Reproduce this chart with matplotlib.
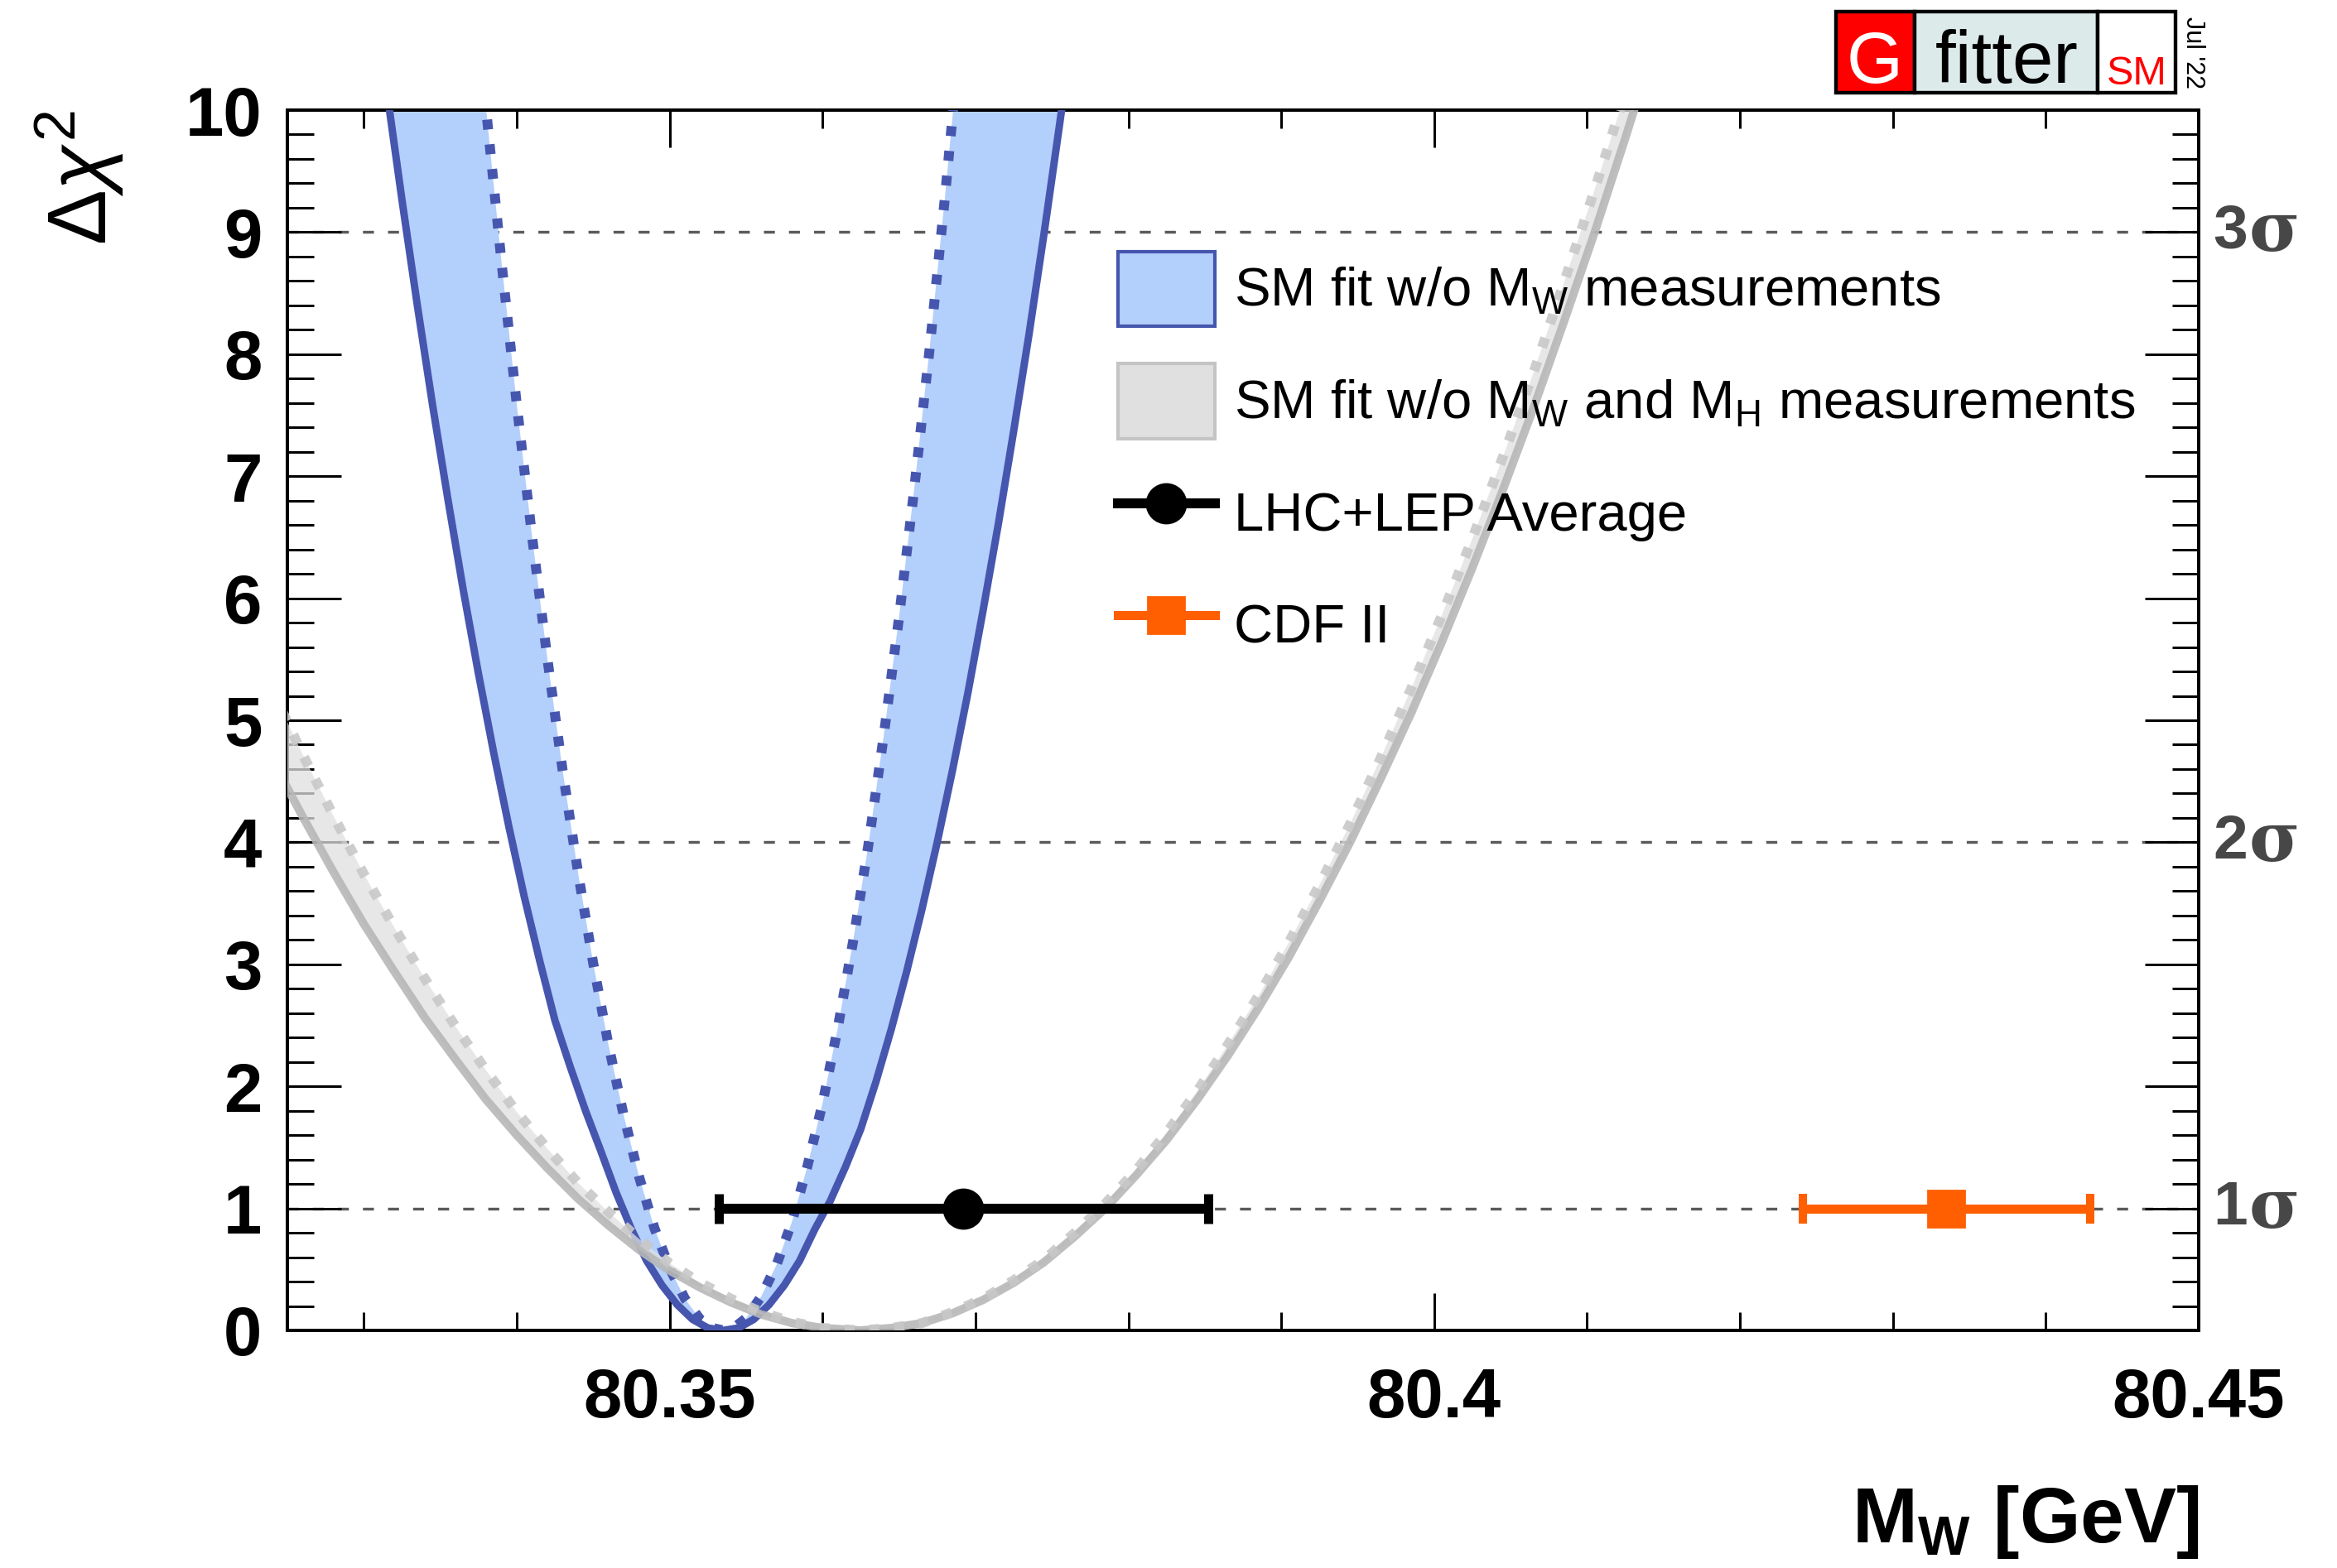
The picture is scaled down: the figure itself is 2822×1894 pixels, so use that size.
import numpy as np
import matplotlib
matplotlib.use('Agg')
import matplotlib.pyplot as plt
from matplotlib.patches import Rectangle, Patch
from matplotlib.lines import Line2D
from matplotlib.ticker import FixedLocator, MultipleLocator
import matplotlib.transforms as mtransforms

plt.rcParams['font.family'] = ['Liberation Sans', 'DejaVu Sans']
plt.rcParams['mathtext.fontset'] = 'custom'
plt.rcParams['mathtext.rm'] = 'Liberation Sans'
plt.rcParams['mathtext.it'] = 'Liberation Sans:italic'
plt.rcParams['mathtext.bf'] = 'Liberation Sans:bold'

# ---------------- data ----------------
# SM fit w/o MW measurements: outer (solid) profile
blue_solid_x = [80.3310, 80.3317, 80.3325, 80.3335, 80.3345, 80.3355, 80.3365, 80.3375,
                80.3385, 80.3395, 80.3405, 80.3415, 80.3425, 80.3435, 80.3445, 80.3455,
                80.3465, 80.3475, 80.3485, 80.3495, 80.3505, 80.3515, 80.3525, 80.3535,
                80.3545, 80.3555, 80.3565, 80.3575, 80.3585, 80.3595, 80.3605, 80.3615,
                80.3625, 80.3635, 80.3645, 80.3655, 80.3665, 80.3675, 80.3685, 80.3695,
                80.3705, 80.3715, 80.3725, 80.3735, 80.3745, 80.3755, 80.3762]
blue_solid_y = [10.63, 9.98, 9.26, 8.40, 7.58, 6.81, 6.07, 5.38,
                4.73, 4.12, 3.55, 3.03, 2.54, 2.16, 1.80, 1.47,
                1.13, 0.83, 0.57, 0.37, 0.21, 0.09, 0.02, 0.0,
                0.02, 0.09, 0.21, 0.37, 0.57, 0.83, 1.06, 1.34,
                1.65, 2.04, 2.47, 2.94, 3.45, 4.00, 4.59, 5.22,
                5.90, 6.61, 7.37, 8.16, 9.00, 9.88, 10.52]
# SM fit w/o MW measurements: inner (dotted) profile
blue_dot_x = [80.3376, 80.3381, 80.3390, 80.3400, 80.3410, 80.3420, 80.3430, 80.3440,
              80.3450, 80.3460, 80.3470, 80.3480, 80.3490, 80.3500, 80.3510, 80.3520,
              80.3528, 80.3535, 80.3542, 80.3550, 80.3560, 80.3570, 80.3580, 80.3590,
              80.3600, 80.3610, 80.3620, 80.3630, 80.3640, 80.3650, 80.3660, 80.3670,
              80.3680, 80.3692]
blue_dot_y = [10.53, 9.88, 8.76, 7.59, 6.51, 5.51, 4.59, 3.76,
              3.01, 2.34, 1.76, 1.26, 0.84, 0.51, 0.26, 0.09,
              0.02, 0.0, 0.02, 0.10, 0.28, 0.54, 0.89, 1.34,
              1.86, 2.48, 3.19, 3.98, 4.87, 5.84, 6.90, 8.04,
              9.28, 10.88]

# SM fit w/o MW and MH measurements: outer (solid) profile
gray_solid_x = [80.3240, 80.3260, 80.3280, 80.3300, 80.3320, 80.3340, 80.3360, 80.3380,
                80.3400, 80.3420, 80.3440, 80.3460, 80.3480, 80.3500, 80.3520, 80.3540,
                80.3560, 80.3580, 80.3600, 80.3625, 80.3645, 80.3665, 80.3685, 80.3705,
                80.3725, 80.3745, 80.3765, 80.3785, 80.3805, 80.3825, 80.3845, 80.3865,
                80.3885, 80.3905, 80.3925, 80.3945, 80.3965, 80.3985, 80.4005, 80.4025,
                80.4045, 80.4065, 80.4085, 80.4105, 80.4125, 80.4140]
gray_solid_y = [4.68, 4.21, 3.76, 3.33, 2.94, 2.56, 2.22, 1.89,
                1.60, 1.33, 1.08, 0.86, 0.66, 0.49, 0.35, 0.23,
                0.13, 0.06, 0.02, 0.0, 0.02, 0.06, 0.14, 0.25,
                0.39, 0.56, 0.77, 1.00, 1.27, 1.56, 1.89, 2.25,
                2.64, 3.06, 3.52, 4.00, 4.52, 5.06, 5.64, 6.25,
                6.89, 7.56, 8.27, 9.00, 9.77, 10.37]
# SM fit w/o MW and MH measurements: inner (dotted) profile
gray_dot_x = [80.3240, 80.3260, 80.3280, 80.3300, 80.3320, 80.3340, 80.3360, 80.3380,
              80.3400, 80.3420, 80.3440, 80.3460, 80.3480, 80.3500, 80.3520, 80.3540,
              80.3560, 80.3580, 80.3600, 80.3625, 80.3645, 80.3665, 80.3685, 80.3705,
              80.3725, 80.3745, 80.3765, 80.3785, 80.3805, 80.3825, 80.3845, 80.3865,
              80.3885, 80.3905, 80.3925, 80.3945, 80.3965, 80.3985, 80.4005, 80.4025,
              80.4045, 80.4065, 80.4085, 80.4105, 80.4125, 80.4135]
gray_dot_y = [5.25, 4.72, 4.22, 3.74, 3.30, 2.88, 2.49, 2.13,
              1.79, 1.49, 1.21, 0.97, 0.75, 0.55, 0.39, 0.26,
              0.15, 0.07, 0.02, 0.0, 0.02, 0.06, 0.15, 0.26,
              0.41, 0.58, 0.80, 1.04, 1.31, 1.62, 1.96, 2.34,
              2.74, 3.18, 3.65, 4.15, 4.69, 5.26, 5.86, 6.49,
              7.16, 7.85, 8.59, 9.35, 10.14, 10.55]

# measurements
lhc_x, lhc_err = 80.3692, 0.0160
cdf_x, cdf_err = 80.4335, 0.0094
meas_y = 1.0

sigma_levels = [1, 4, 9]
sigma_labels = ['1', '2', '3']

xticks = [80.35, 80.40, 80.45]
xtick_labels = ['80.35', '80.4', '80.45']
yticks = list(range(0, 11))
ytick_labels = [str(v) for v in yticks]

legend_labels = ['SM fit w/o M$_{\\mathrm{W}}$ measurements',
                 'SM fit w/o M$_{\\mathrm{W}}$ and M$_{\\mathrm{H}}$ measurements',
                 'LHC+LEP Average',
                 'CDF II']

# ---------------- style ----------------
W, H, DPI = 2822, 1894, 200
PX = 72.0 / DPI  # points per pixel

blue_line = '#4656AE'
blue_fill = '#B3CFFB'
gray_line = '#B7B7B7'
gray_dot = '#C8C8C8'
gray_fill = '#E0E0E0'
orange = '#FF5F00'

fig = plt.figure(figsize=(W / DPI, H / DPI), dpi=DPI)
ax = fig.add_axes([347 / W, 1 - 1607 / H, (2655 - 347) / W, (1607 - 133) / H])
ax.set_xlim(80.325, 80.45)
ax.set_ylim(0, 10)

# reference lines
for lvl in sigma_levels:
    ax.axhline(lvl, color='#5A5A5A', lw=3.4 * PX, dashes=(3.9, 5.0), zorder=1)

# blue band
ax.fill(np.concatenate([blue_solid_x, blue_dot_x[::-1]]),
        np.concatenate([blue_solid_y, blue_dot_y[::-1]]),
        color=blue_fill, lw=0, zorder=2)
ax.plot(blue_solid_x, blue_solid_y, color=blue_line, lw=9 * PX, zorder=3,
        solid_joinstyle='round', solid_capstyle='round')
ax.plot(blue_dot_x, blue_dot_y, color=blue_line, lw=12 * PX, dashes=(1.0, 1.5), zorder=3)

# gray band
ax.fill(np.concatenate([gray_solid_x, gray_dot_x[::-1]]),
        np.concatenate([gray_solid_y, gray_dot_y[::-1]]),
        color=gray_fill, lw=0, alpha=0.75, zorder=4)
ax.plot(gray_solid_x, gray_solid_y, color=gray_line, lw=10 * PX, alpha=0.9, zorder=5,
        solid_joinstyle='round')
ax.plot(gray_dot_x, gray_dot_y, color=gray_dot, lw=12 * PX, dashes=(1.0, 1.5), alpha=0.9,
        zorder=5)

# measurements
ax.errorbar([lhc_x], [meas_y], xerr=[lhc_err], fmt='o', color='black', ms=47 * PX,
            elinewidth=12 * PX, capsize=18 * PX, capthick=11 * PX, zorder=7)
ax.errorbar([cdf_x], [meas_y], xerr=[cdf_err], fmt='s', color=orange, ms=44 * PX,
            elinewidth=11 * PX, capsize=18 * PX, capthick=10 * PX, zorder=7)

# axes / ticks
ax.xaxis.set_major_locator(FixedLocator(xticks))
ax.set_xticklabels(xtick_labels)
ax.xaxis.set_minor_locator(MultipleLocator(0.01))
ax.yaxis.set_major_locator(FixedLocator(yticks))
ax.set_yticklabels(ytick_labels)
ax.yaxis.set_minor_locator(MultipleLocator(0.2))
ax.tick_params(axis='x', which='major', direction='in', length=45 * PX, width=3 * PX,
               top=True, bottom=True, pad=16, labelsize=30)
ax.tick_params(axis='x', which='minor', direction='in', length=22 * PX, width=3 * PX,
               top=True, bottom=True)
ax.tick_params(axis='y', which='major', direction='in', length=65 * PX, width=3 * PX,
               left=True, right=True, pad=11, labelsize=30)
ax.tick_params(axis='y', which='minor', direction='in', length=32 * PX, width=3 * PX,
               left=True, right=True)
for lab in ax.get_xticklabels() + ax.get_yticklabels():
    lab.set_fontweight('bold')
for sp in ax.spines.values():
    sp.set_linewidth(4 * PX)

# sigma labels at right
trans = mtransforms.blended_transform_factory(fig.transFigure, ax.transData)
for lvl, lab in zip(sigma_levels, sigma_labels):
    ax.text(2714 / W, lvl, lab, transform=trans, ha='right', va='center',
            fontsize=27, fontweight='bold', color='#474747', clip_on=False)
    ax.text(2716 / W, lvl, '\u03c3', transform=trans, ha='left', va='center',
            fontsize=30, fontweight='bold', color='#474747', clip_on=False,
            family=['DejaVu Serif'])

# axis labels
fig.text(97 / W, 1 - 133 / H, r'$\Delta\chi^{2}$', rotation=90, ha='center', va='top',
         fontsize=36)
fig.text(2655 / W, 1 - 1863 / H, 'M$_{\\mathbf{W}}$ [GeV]', ha='right', va='baseline',
         fontsize=34, fontweight='bold')

# legend
handles = [Patch(facecolor=blue_fill, edgecolor=blue_line, lw=1.5),
           Patch(facecolor=gray_fill, edgecolor='#C4C4C4', lw=1.5),
           Line2D([], [], color='black', lw=12 * PX, marker='o', ms=47 * PX),
           Line2D([], [], color=orange, lw=11 * PX, marker='s', ms=44 * PX)]
fig.legend(handles, legend_labels, loc='upper left',
           bbox_to_anchor=(1350 / W, 1 - 304 / H), frameon=False, fontsize=23.5,
           handlelength=1.79, handleheight=1.75, handletextpad=0.35,
           labelspacing=0.69, borderpad=0, borderaxespad=0)

# Gfitter logo
def fx(px):
    return px / W

def fy(py):
    return 1 - py / H

boxes = [(2217, 2312, '#FF0000'), (2312, 2533, '#DDEAEA'), (2533, 2627, '#FFFFFF')]
for x0, x1, col in boxes:
    fig.add_artist(Rectangle((fx(x0), fy(112)), fx(x1) - fx(x0), fy(14) - fy(112),
                             transform=fig.transFigure, facecolor=col,
                             edgecolor='black', lw=4.4 * PX))
fig.text(fx(2264), fy(100), 'G', color='white', ha='center', va='baseline', fontsize=31.5)
fig.text(fx(2423), fy(100), 'fitter', color='black', ha='center', va='baseline',
         fontsize=32)
fig.text(fx(2580), fy(102), 'SM', color='#FF0000', ha='center', va='baseline',
         fontsize=17.5)
fig.text(fx(2648), fy(63), "Jul '22", color='black', ha='center', va='center',
         rotation=-90, fontsize=11)

fig.savefig('out.png', dpi=DPI)
